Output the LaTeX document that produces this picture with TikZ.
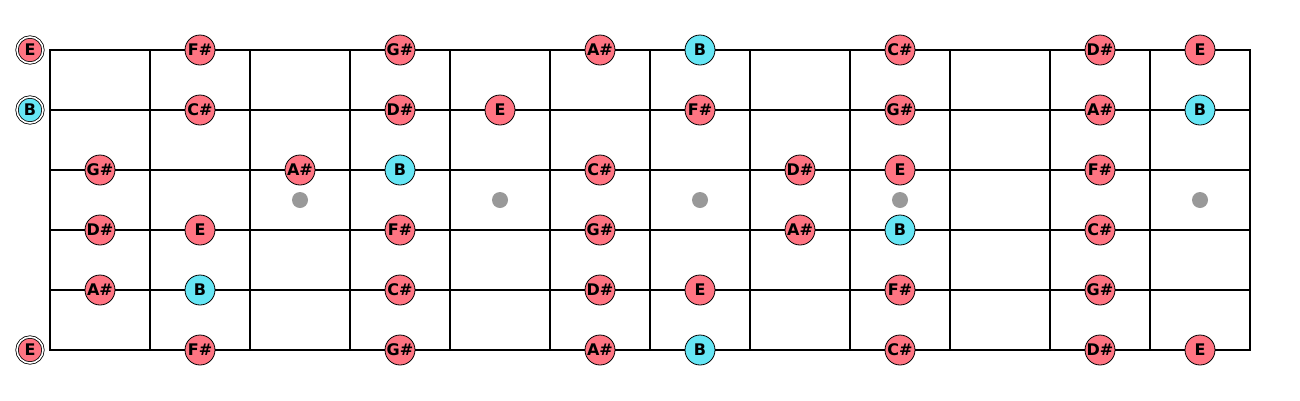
\documentclass[tikz,border=0pt]{standalone}
\usepackage{fontspec}
\setmainfont{DejaVu Sans}
\begin{document}
\begin{tikzpicture}[x=1pt,y=-1pt,
  grid/.style={line width=2pt,line cap=rect},
  note/.style={circle,draw=black,line width=0.8pt,minimum size=30pt,inner sep=0pt,
    font=\fontsize{16}{16}\selectfont\bfseries},
  rednote/.style={note,fill=notered},
  bluenote/.style={note,fill=noteblue},
  opennote/.style={circle,draw=black,line width=0.8pt,minimum size=26pt,inner sep=0pt,
    font=\fontsize{16}{16}\selectfont\bfseries,double=white,double distance=1.6pt},
  inlay/.style={circle,fill=inlaygray,minimum size=16pt,inner sep=0pt}]
\definecolor{notered}{HTML}{FF7482}
\definecolor{noteblue}{HTML}{66E6F5}
\definecolor{inlaygray}{HTML}{999999}
\useasboundingbox (0,0) rectangle (1300,400);
% strings
\foreach \y in {50,110,...,350} \draw[grid] (50,\y) -- (1250,\y);
% frets
\foreach \x in {50,150,...,1250} \draw[grid] (\x,50) -- (\x,350);
% inlays
\foreach \x/\n in {300/i3,500/i5,700/i7,900/i9,1200/i12} \node[inlay] (\n) at (\x,200) {};
% open strings
\node[opennote,fill=notered] (o1) at (30,50) {E};
\node[opennote,fill=noteblue] (o2) at (30,110) {B};
\node[opennote,fill=notered] (o6) at (30,350) {E};
% string 1
\foreach \x/\t/\s [count=\i] in {200/F\#/rednote,400/G\#/rednote,600/A\#/rednote,700/B/bluenote,900/C\#/rednote,1100/D\#/rednote,1200/E/rednote}
  \node[\s] (a\i) at (\x,50) {\t};
% string 2
\foreach \x/\t/\s [count=\i] in {200/C\#/rednote,400/D\#/rednote,500/E/rednote,700/F\#/rednote,900/G\#/rednote,1100/A\#/rednote,1200/B/bluenote}
  \node[\s] (b\i) at (\x,110) {\t};
% string 3
\foreach \x/\t/\s [count=\i] in {100/G\#/rednote,300/A\#/rednote,400/B/bluenote,600/C\#/rednote,800/D\#/rednote,900/E/rednote,1100/F\#/rednote}
  \node[\s] (c\i) at (\x,170) {\t};
% string 4
\foreach \x/\t/\s [count=\i] in {100/D\#/rednote,200/E/rednote,400/F\#/rednote,600/G\#/rednote,800/A\#/rednote,900/B/bluenote,1100/C\#/rednote}
  \node[\s] (d\i) at (\x,230) {\t};
% string 5
\foreach \x/\t/\s [count=\i] in {100/A\#/rednote,200/B/bluenote,400/C\#/rednote,600/D\#/rednote,700/E/rednote,900/F\#/rednote,1100/G\#/rednote}
  \node[\s] (e\i) at (\x,290) {\t};
% string 6
\foreach \x/\t/\s [count=\i] in {200/F\#/rednote,400/G\#/rednote,600/A\#/rednote,700/B/bluenote,900/C\#/rednote,1100/D\#/rednote,1200/E/rednote}
  \node[\s] (f\i) at (\x,350) {\t};
\end{tikzpicture}
\end{document}
